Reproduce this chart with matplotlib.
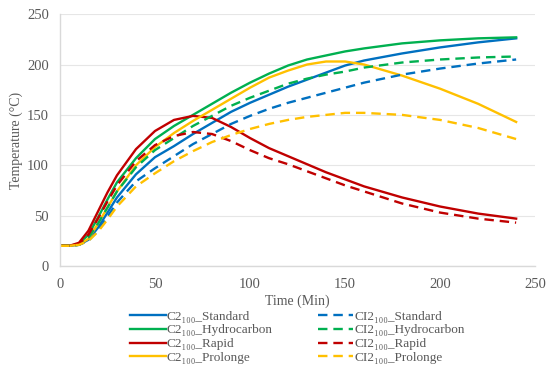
import matplotlib
matplotlib.use("Agg")
import matplotlib.pyplot as plt

# time axis (min)
time = [0, 5, 10, 15, 20, 25, 30, 40, 50, 60, 70, 80, 90, 100, 110, 120,
        130, 140, 150, 160, 180, 200, 220, 240]

# C2100 series (solid)
c2_standard = [20, 20, 21, 26, 38, 53, 68, 91, 108, 119, 131, 142, 153, 162,
               170, 178, 185, 192, 199, 204, 211, 217, 222, 226]
c2_hydro = [20, 20, 22, 31, 48, 66, 83, 107, 126, 139, 150, 161, 172, 182,
            191, 199, 205, 209, 213, 216, 221, 224, 226, 227]
c2_rapid = [20, 20, 23, 35, 54, 73, 90, 116, 134, 145, 149, 147, 138, 127,
            117, 109, 101, 93, 86, 79, 68, 59, 52, 47]
c2_prolonge = [20, 20, 21, 27, 42, 58, 74, 100, 118, 132, 144, 155, 166, 177,
               187, 194, 200, 203, 203, 200, 189, 176, 161, 143]

# CI2100 series (dashed)
ci2_standard = [20, 20, 21, 25, 35, 49, 63, 84, 97, 109, 121, 131, 141, 149,
                156, 162, 167, 172, 177, 182, 190, 196, 201, 205]
ci2_hydro = [20, 20, 21, 28, 42, 58, 74, 98, 115, 127, 139, 149, 159, 167,
             174, 181, 186, 190, 193, 197, 202, 205, 207, 208]
ci2_rapid = [20, 20, 22, 31, 47, 64, 80, 104, 120, 129, 133, 131, 124, 115,
             107, 101, 94, 87, 80, 74, 62, 53, 47, 43]
ci2_prolonge = [20, 20, 21, 25, 34, 46, 59, 79, 92, 104, 114, 123, 130, 136,
                141, 145, 148, 150, 152, 152, 150, 145, 137, 126]

blue = "#0070C0"
green = "#00B050"
red = "#C00000"
yellow = "#FFC000"
txt = "#595959"

plt.rcParams['font.family'] = ['Liberation Serif', 'DejaVu Serif']

fig = plt.figure(figsize=(5.5, 3.73), dpi=100)
ax = fig.add_axes([0.109, 0.287, 0.864, 0.675])

sub = "\u2081\u2080\u2080"
solid = [(c2_standard, blue, "Standard"), (c2_hydro, green, "Hydrocarbon"),
         (c2_rapid, red, "Rapid"), (c2_prolonge, yellow, "Prolonge")]
dashed = [(ci2_standard, blue, "Standard"), (ci2_hydro, green, "Hydrocarbon"),
          (ci2_rapid, red, "Rapid"), (ci2_prolonge, yellow, "Prolonge")]

for vals, col, name in solid:
    ax.plot(time, vals, color=col, lw=1.7, label="C2" + sub + "_" + name)
for vals, col, name in dashed:
    ax.plot(time, vals, color=col, lw=1.7, ls=(0, (4, 2.5)),
            label="CI2" + sub + "_" + name)

ax.set_xlim(0, 250)
ax.set_ylim(0, 250)
ax.set_xticks(range(0, 251, 50))
ax.set_yticks(range(0, 251, 50))
ax.tick_params(length=0, labelsize=10.5, colors=txt)
ax.tick_params(axis='x', pad=9)
ax.tick_params(axis='y', pad=8)
ax.grid(axis='y', color="#E6E6E6", lw=0.8)
ax.set_axisbelow(True)
for s in ['top', 'right']:
    ax.spines[s].set_visible(False)
for s in ['left', 'bottom']:
    ax.spines[s].set_color("#D9D9D9")
    ax.spines[s].set_linewidth(1.0)

ax.set_xlabel("Time (Min)", fontsize=10, color=txt, labelpad=2)
ax.set_ylabel("Temperature (°C)", fontsize=10, color=txt, labelpad=3)

ax.legend(loc="upper center", bbox_to_anchor=(0.5, -0.15), ncol=2,
          frameon=False, fontsize=9.5, handlelength=2.7, handletextpad=0.1,
          labelspacing=0.12, columnspacing=3.4, borderpad=0,
          labelcolor=txt)

fig.savefig("out.png", dpi=100)
